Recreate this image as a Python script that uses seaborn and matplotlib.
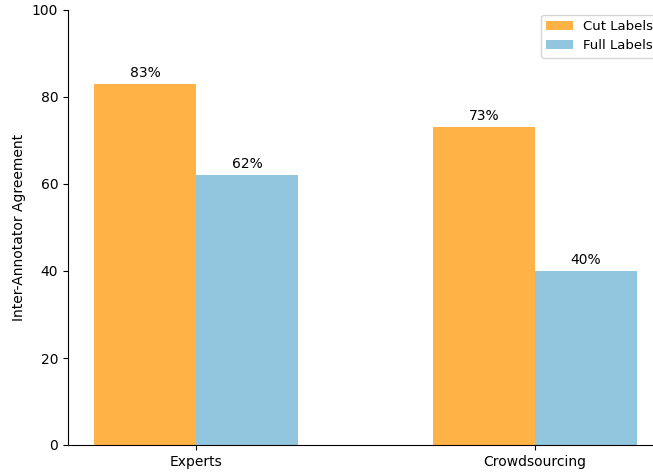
import matplotlib
matplotlib.use("Agg")
import matplotlib.pyplot as plt
import seaborn as sns
import pandas as pd

# Dados
grupos = ['Experts', 'Crowdsourcing']
series = ['Cut Labels', 'Full Labels']
cut_labels = [83, 73]
full_labels = [62, 40]
cores = ['#ffb347', '#92c5de']

df = pd.DataFrame({
    'grupo': grupos * 2,
    'serie': [series[0]] * 2 + [series[1]] * 2,
    'valor': cut_labels + full_labels,
})

fig = plt.figure(figsize=(6.53, 4.72), dpi=100)
ax = fig.add_axes([68 / 653, 27 / 472, 595 / 653, 435 / 472])

sns.barplot(data=df, x='grupo', y='valor', hue='serie', order=grupos,
            hue_order=series, palette=cores, width=0.6, saturation=1,
            errorbar=None, ax=ax)

for cont in ax.containers:
    ax.bar_label(cont, labels=[f'{v:.0f}%' for v in cont.datavalues],
                 padding=3, fontsize=10)

ax.set_xlim(-0.378, 1.378)
ax.set_ylim(0, 100)
ax.set_xlabel('')
ax.set_ylabel('Inter-Annotator Agreement')
# legenda encostada na borda direita, como no original
ax.legend(loc='upper right', title=None, fontsize=9.5,
          bbox_to_anchor=(1 + 2 / 595, 1 + 2 / 435))
sns.despine(ax=ax)

plt.savefig('out.png', dpi=100)
